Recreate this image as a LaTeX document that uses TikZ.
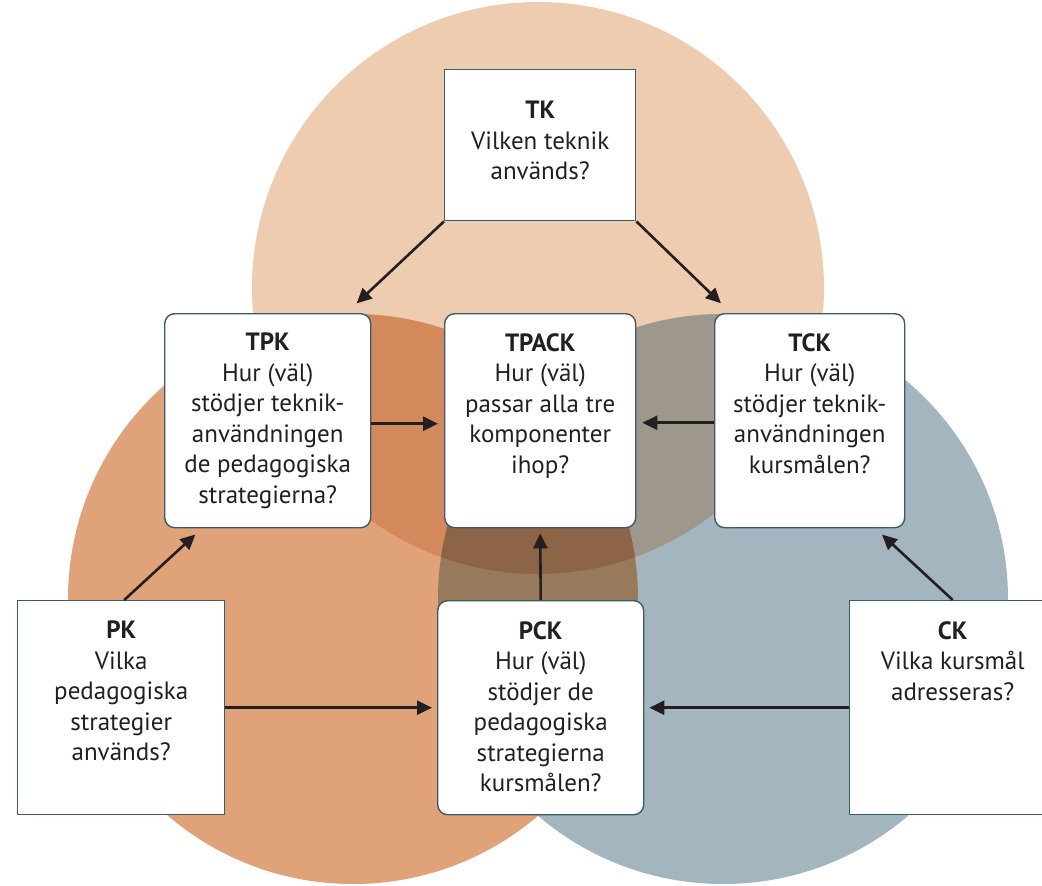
\documentclass[tikz,border=0pt]{standalone}
\usepackage{fontspec}
\setmainfont{PT Sans}
\usetikzlibrary{arrows.meta,calc}
\definecolor{cT}{HTML}{EECCB0}
\definecolor{cP}{HTML}{E0A278}
\definecolor{cC}{HTML}{A3B6C0}
\definecolor{cTP}{HTML}{D4895D}
\definecolor{cTC}{HTML}{9E978B}
\definecolor{cPC}{HTML}{977A5C}
\definecolor{cTPC}{HTML}{8D6446}
\definecolor{boxline}{HTML}{3D5A6C}
\definecolor{ink}{HTML}{231F20}
\begin{document}
\begin{tikzpicture}[x=1pt,y=-1pt,
  sqbox/.style={draw=boxline,fill=white,line width=1.4pt,inner sep=0pt,anchor=north west},
  rdbox/.style={sqbox,rounded corners=10pt},
  txt/.style={font=\fontsize{25}{30.5}\selectfont,align=center,inner sep=0pt,anchor=north,text=ink},
  arr/.style={draw=ink,line width=2.6pt,-{Triangle[length=15pt,width=14pt]}}]
\useasboundingbox (0,0) rectangle (1042,886);
\fill[white] (0,0) rectangle (1042,886);
% circles
\coordinate (ct) at (538,288);
\coordinate (cp) at (353,599);
\coordinate (cc) at (723,599);
\fill[cT] (ct) circle (286pt);
\fill[cP] (cp) circle (285pt);
\fill[cC] (cc) circle (285pt);
\begin{scope}
  \clip (ct) circle (286pt);
  \fill[cTP] (cp) circle (285pt);
  \fill[cTC] (cc) circle (285pt);
\end{scope}
\begin{scope}
  \clip (cp) circle (285pt);
  \fill[cPC] (cc) circle (285pt);
  \clip (cc) circle (285pt);
  \fill[cTPC] (ct) circle (286pt);
\end{scope}
% boxes
\node[sqbox,minimum width=191pt,minimum height=151pt] (tk) at (444,69) {};
\node[rdbox,minimum width=206pt,minimum height=214pt] (tpk) at (164,313) {};
\node[rdbox,minimum width=191pt,minimum height=214pt] (tpack) at (444,313) {};
\node[rdbox,minimum width=190pt,minimum height=214pt] (tck) at (714,313) {};
\node[sqbox,minimum width=207pt,minimum height=214pt] (pk) at (17,600) {};
\node[rdbox,minimum width=206pt,minimum height=214pt] (pck) at (437,600) {};
\node[sqbox,minimum width=206pt,minimum height=214pt] (ck) at (849,600) {};
% texts
\node[txt] (tkt) at ($(tk.north)+(0,32)$) {\textbf{TK}\\Vilken teknik\\används?};
\node[txt] (tpkt) at ($(tpk.north)+(0,20)$) {\textbf{TPK}\\Hur (väl)\\stödjer teknik-\\användningen\\de pedagogiska\\strategierna?};
\node[txt] (tpackt) at ($(tpack.north)+(0,20)$) {\textbf{TPACK}\\Hur (väl)\\passar alla tre\\komponenter\\ihop?};
\node[txt] (tckt) at ($(tck.north)+(0,20)$) {\textbf{TCK}\\Hur (väl)\\stödjer teknik-\\användningen\\kursmålen?};
\node[txt] (pkt) at ($(pk.north)+(0,21)$) {\textbf{PK}\\Vilka\\pedagogiska\\strategier\\används?};
\node[txt] (pckt) at ($(pck.north)+(0,21)$) {\textbf{PCK}\\Hur (väl)\\stödjer de\\pedagogiska\\strategierna\\kursmålen?};
\node[txt] (ckt) at ($(ck.north)+(0,21)$) {\textbf{CK}\\Vilka kursmål\\adresseras?};
% connectors
\draw[arr,shorten >=14pt] (tk.south west) -- ($(tpk.north east)+(-25,0)$);
\draw[arr,shorten >=14pt] (tk.south east) -- ($(tck.north west)+(17,0)$);
\draw[arr,shorten >=6pt] ($(tpk.east)+(0,3)$) -- ($(tpack.west)+(0,3)$);
\draw[arr,shorten >=6pt] ($(tck.west)+(0,2)$) -- ($(tpack.east)+(0,2)$);
\draw[arr,shorten >=5pt] (pck.north) -- (tpack.south);
\draw[arr,shorten >=9pt] ($(pk.north)+(3,0)$) -- ($(tpk.south west)+(38,0)$);
\draw[arr,shorten >=5pt] (pk.east) -- (pck.west);
\draw[arr,shorten >=5pt] (ck.west) -- (pck.east);
\draw[arr,shorten >=9pt] (ck.north) -- ($(tck.south east)+(-30,0)$);
\end{tikzpicture}
\end{document}
